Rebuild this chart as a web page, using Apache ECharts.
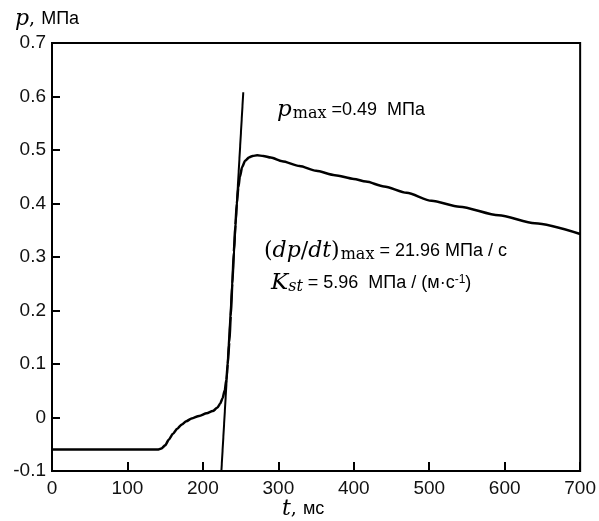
<!DOCTYPE html>
<html>
<head>
<meta charset="utf-8">
<script src="https://cdn.jsdelivr.net/npm/echarts@6/dist/echarts.min.js"></script>
<style>
  html, body { margin: 0; padding: 0; background: #fff; }
  #chart { width: 599px; height: 521px; }
</style>
</head>
<body>
<div id="chart"></div>
<script>
// pressure trace
var timeMs = [0, 50, 100, 140, 145, 150, 155, 160, 166, 172, 178, 185, 195, 205, 213, 219, 223, 226, 229, 231,
  233, 235, 237, 239, 241, 243, 245, 247, 249, 252, 256, 261, 266, 272, 280, 290, 305, 328, 350, 375,
  400, 416, 440, 470, 503, 540, 592, 640, 700];
var pressure = [-0.06, -0.06, -0.06, -0.06, -0.058, -0.052, -0.041, -0.031, -0.021, -0.013, -0.007, -0.002, 0.003, 0.008, 0.012, 0.018, 0.026, 0.036, 0.051, 0.07,
  0.1, 0.14, 0.19, 0.25, 0.31, 0.36, 0.40, 0.43, 0.45, 0.468, 0.48, 0.486, 0.489, 0.49, 0.489, 0.486, 0.479, 0.47, 0.461, 0.453,
  0.446, 0.441, 0.432, 0.42, 0.405, 0.394, 0.378, 0.363, 0.343];

// tangent line at the max slope
var tangentT = [224.5, 253.5];
var tangentP = [-0.1, 0.608];

var xTicks = [0, 100, 200, 300, 400, 500, 600, 700];
var yTicks = [-0.1, 0, 0.1, 0.2, 0.3, 0.4, 0.5, 0.6, 0.7];

function pairs(xs, ys) {
  var out = [];
  for (var i = 0; i < xs.length; i++) out.push([xs[i], ys[i]]);
  return out;
}

var serif = '"DejaVu Serif", "Liberation Serif", serif';
var sans = '"Liberation Sans", Arial, sans-serif';

var chart = echarts.init(document.getElementById('chart'));

var option = {
  animation: false,
  grid: {
    left: 52, right: 17, top: 43, bottom: 50,
    show: true, borderColor: '#000', borderWidth: 2, backgroundColor: 'transparent'
  },
  xAxis: {
    type: 'value',
    min: xTicks[0], max: xTicks[xTicks.length - 1], interval: 100,
    axisLine: { show: true, onZero: false, lineStyle: { color: '#000', width: 2 } },
    axisTick: { show: true, inside: true, length: 9, lineStyle: { color: '#000', width: 2 } },
    axisLabel: { color: '#111', fontSize: 19, fontFamily: sans, margin: 8 },
    splitLine: { show: false }
  },
  yAxis: {
    type: 'value',
    min: yTicks[0], max: yTicks[yTicks.length - 1], interval: 0.1,
    axisLine: { show: true, onZero: false, lineStyle: { color: '#000', width: 2 } },
    axisTick: { show: true, inside: true, length: 8, lineStyle: { color: '#000', width: 2 } },
    axisLabel: {
      color: '#111', fontSize: 19, fontFamily: sans, margin: 6,
      formatter: function (v) { return String(Math.round(v * 10) / 10); }
    },
    splitLine: { show: false }
  },
  series: [
    {
      type: 'line',
      data: pairs(timeMs, pressure),
      smooth: 0.25,
      smoothMonotone: 'x',
      symbol: 'none',
      lineStyle: { color: '#000', width: 2.5 }
    },
    {
      type: 'line',
      data: pairs(tangentT, tangentP),
      symbol: 'none',
      lineStyle: { color: '#000', width: 2 }
    }
  ],
  graphic: [
    {
      type: 'text', left: 15, top: 8,
      style: {
        text: '{i|p}{s|, }{u|МПа}',
        rich: {
          i: { fontFamily: serif, fontStyle: 'italic', fontSize: 22, fill: '#000' },
          s: { fontFamily: serif, fontSize: 19, fill: '#000' },
          u: { fontFamily: sans, fontSize: 18, fill: '#000' }
        }
      }
    },
    {
      type: 'text', left: 282, top: 498,
      style: {
        text: '{i|t}{s|, }{u|мс}',
        rich: {
          i: { fontFamily: serif, fontStyle: 'italic', fontSize: 22, fill: '#000' },
          s: { fontFamily: serif, fontSize: 19, fill: '#000' },
          u: { fontFamily: sans, fontSize: 18, fill: '#000' }
        }
      }
    },
    {
      type: 'text', left: 277, top: 99,
      style: {
        text: '{i|p}{sub|max}{n| =0.49  МПа}',
        rich: {
          i: { fontFamily: serif, fontStyle: 'italic', fontSize: 23, fill: '#000' },
          sub: { fontFamily: serif, fontSize: 16, fill: '#000', padding: [7, 0, 0, 1] },
          n: { fontFamily: sans, fontSize: 18, fill: '#000' }
        }
      }
    },
    {
      type: 'text', left: 264, top: 240,
      style: {
        text: '{r|(}{i|dp}{r|/}{i|dt}{r|)}{sub|max}{n| = 21.96 МПа / с}',
        rich: {
          r: { fontFamily: serif, fontSize: 22, fill: '#000' },
          i: { fontFamily: serif, fontStyle: 'italic', fontSize: 22, fill: '#000' },
          sub: { fontFamily: serif, fontSize: 16, fill: '#000', padding: [7, 0, 0, 1] },
          n: { fontFamily: sans, fontSize: 18, fill: '#000' }
        }
      }
    },
    {
      type: 'text', left: 271, top: 272,
      style: {
        text: '{i|K}{sub|st}{n| = 5.96  МПа / (м·с}{sup|-1}{n|)}',
        rich: {
          i: { fontFamily: serif, fontStyle: 'italic', fontSize: 23, fill: '#000' },
          sub: { fontFamily: serif, fontStyle: 'italic', fontSize: 16, fill: '#000', padding: [7, 0, 0, 0] },
          n: { fontFamily: sans, fontSize: 18, fill: '#000' },
          sup: { fontFamily: sans, fontSize: 12, fill: '#000', padding: [0, 0, 8, 0] }
        }
      }
    }
  ]
};

chart.setOption(option);
</script>
</body>
</html>
